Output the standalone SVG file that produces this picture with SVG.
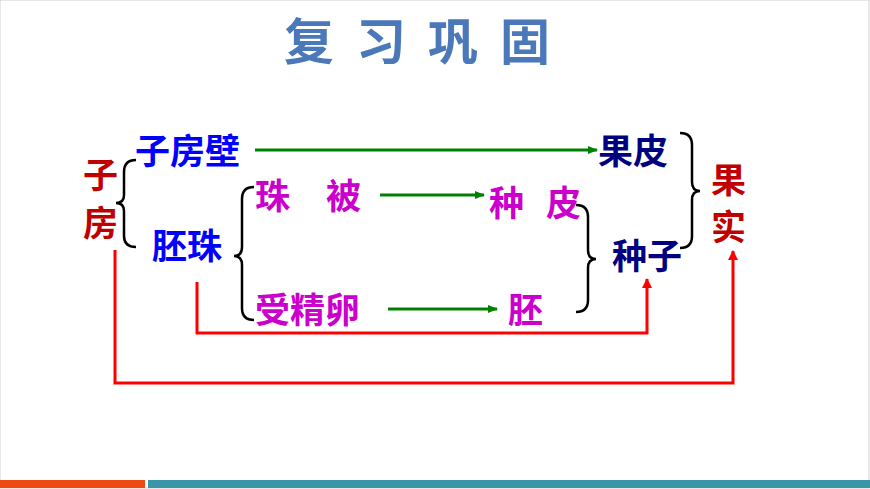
<svg xmlns="http://www.w3.org/2000/svg" width="870" height="489" viewBox="0 0 870 489">
<defs>
<marker id="ag" markerWidth="10" markerHeight="8" refX="9" refY="4" orient="auto" markerUnits="userSpaceOnUse"><path d="M0,0 L10,4 L0,8 z" fill="#008000"/></marker>
<marker id="ar" markerWidth="10" markerHeight="12" refX="9" refY="5" orient="auto" markerUnits="userSpaceOnUse"><path d="M0,0 L10,5 L0,10 z" fill="#ff0000"/></marker>
</defs>
<style>
text{font-family:"Noto Sans CJK SC",sans-serif;font-weight:bold;font-size:35px}
.red{fill:#c00000}.blue{fill:#0000ff}.mag{fill:#cc00cc}.navy{fill:#000080}
.g{stroke:#008000;stroke-width:3;fill:none;marker-end:url(#ag)}
.r{stroke:#ff0000;stroke-width:3;fill:none;marker-end:url(#ar)}
.b{stroke:#000;stroke-width:2.5;fill:none}
</style>
<rect width="870" height="489" fill="#fff"/>
<rect x="0" y="0" width="869" height="488" fill="none" stroke="#d0d0d0"/>
<text x="428" y="60" text-anchor="middle" style="font-size:50px;fill:#4a78b8;letter-spacing:22px">复习巩固</text>
<rect x="0" y="480" width="145" height="8" fill="#f04a14"/>
<rect x="148" y="480" width="722" height="8" fill="#3a95a8"/>
<g id="connectors">
<line class="g" x1="255" y1="150" x2="597" y2="150"/>
<line class="g" x1="380" y1="195" x2="484" y2="195"/>
<line class="g" x1="388" y1="309" x2="497" y2="309"/>
<polyline class="r" points="197,282 197,333 647,333 647,279"/>
<polyline class="r" points="115,250 115,383 733,383 733,251"/>
<path class="b" d="M136,160 Q124,160 124,172 L124,195 Q124,203 116,203 Q124,203 124,211 L124,236 Q124,247 136,247"/>
<path class="b" d="M254,187 Q242,187 242,199 L242,247 Q242,256 234,256 Q242,256 242,265 L242,308 Q242,320 254,320"/>
<path class="b" d="M576,205 Q588,205 588,217 L588,250 Q588,259 596,259 Q588,259 588,268 L588,300 Q588,312 576,312"/>
<path class="b" d="M680,133 Q692,133 692,145 L692,182 Q692,191 700,191 Q692,191 692,200 L692,236 Q692,248 680,248"/>
</g>
<g id="zifang"><text class="red" x="83" y="188">子</text><text class="red" x="83" y="236">房</text></g>
<g id="zifangbi"><text class="blue" x="135" y="164">子房壁</text></g>
<g id="peizhu"><text class="blue" x="152" y="259">胚珠</text></g>
<g id="zhubei"><text class="mag" x="255" y="209">珠</text><text class="mag" x="326" y="209">被</text></g>
<g id="shoujingluan"><text class="mag" x="255" y="323">受精卵</text></g>
<g id="zhongpi"><text class="mag" x="489" y="216">种</text><text class="mag" x="546" y="216">皮</text></g>
<g id="pei"><text class="mag" x="508" y="323">胚</text></g>
<g id="guopi"><text class="navy" x="598" y="164">果皮</text></g>
<g id="zhongzi"><text class="navy" x="612" y="269">种子</text></g>
<g id="guoshi"><text class="red" x="711" y="193">果</text><text class="red" x="711" y="240">实</text></g>
</svg>
